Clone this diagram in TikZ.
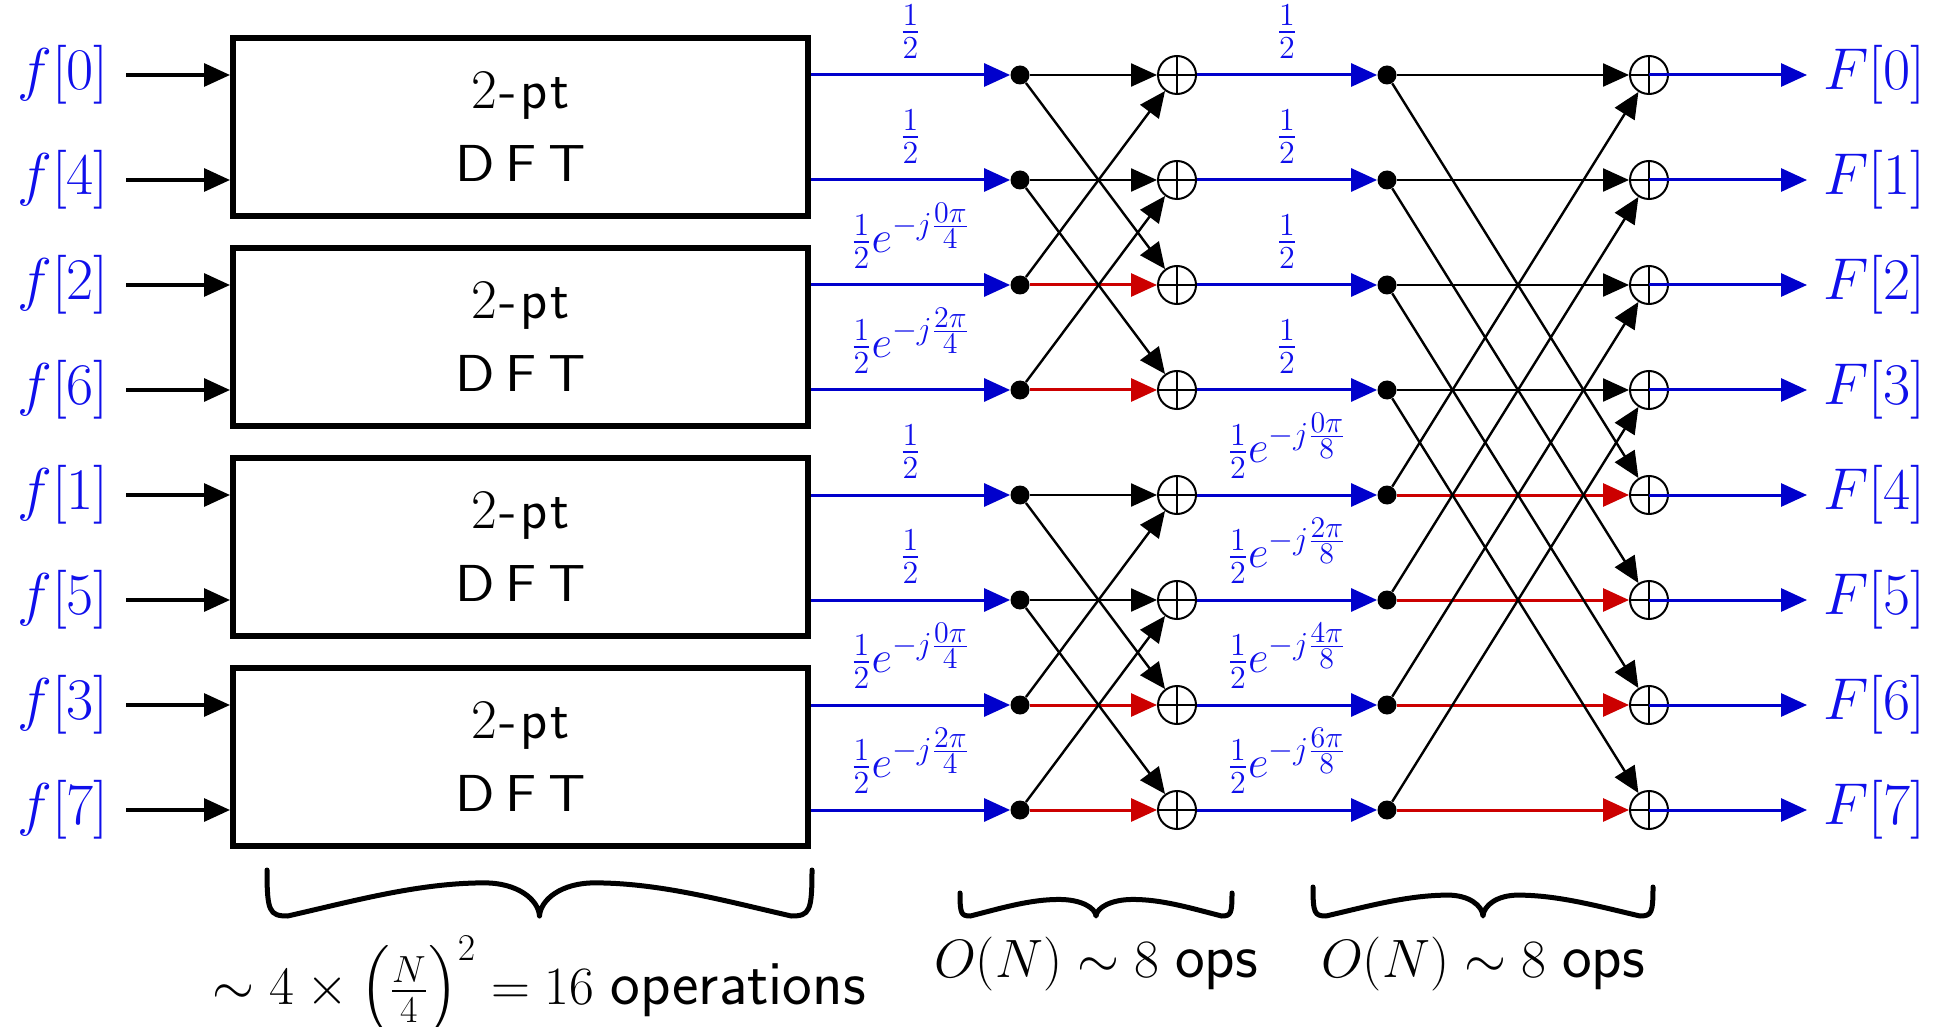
\RequirePackage{fix-cm}
\documentclass[tikz,border=0pt]{standalone}
\usepackage{amsmath}
\usepackage{graphicx}
\usetikzlibrary{arrows.meta}
\DeclareMathSizes{22.5}{22.5}{16}{15}
\definecolor{sigblue}{RGB}{0,0,204}
\definecolor{labblue}{RGB}{15,15,235}
\definecolor{negred}{RGB}{204,0,0}
\newcommand\sanswords[1]{{\sffamily\fontsize{31.5}{36}\selectfont #1}}
\tikzset{
  arr/.style={-{Triangle[length=13pt,width=11.5pt]}},
  insig/.style={arr, line width=1.6pt, black, shorten <=8.5pt},
  bluesig/.style={arr, line width=1.5pt, sigblue},
  blk/.style={arr, line width=1.2pt, black},
  redsig/.style={arr, line width=1.5pt, negred},
  dftbox/.style={draw, line width=3pt, minimum width=287.5pt, minimum height=89pt,
    inner sep=0pt, align=center, font=\sffamily\fontsize{28}{36.5}\selectfont},
  junction/.style={circle, fill=black, inner sep=0pt, minimum size=9.5pt},
  adder/.style={circle, draw, line width=1pt, inner sep=0pt, minimum size=19pt,
    path picture={\draw[line width=0.8pt]
      (path picture bounding box.north) -- (path picture bounding box.south)
      (path picture bounding box.west) -- (path picture bounding box.east);}},
  inlab/.style={anchor=east, inner sep=0pt, text=labblue, font=\fontsize{29.5}{34}\selectfont},
  outlab/.style={anchor=west, inner sep=0pt, text=labblue, font=\fontsize{29.5}{34}\selectfont},
  gain/.style={midway, above=7.5pt, inner sep=0pt, text=labblue, font=\fontsize{22.5}{27}\selectfont},
  opsbrace/.style={line width=2.5pt, line cap=round, line join=round},
  cost/.style={anchor=base, inner sep=0pt, font=\fontsize{27}{32}\selectfont},
}
% curly brace under a stage: left x, right x, bottom y, height, shoulder offset
\newcommand\opbrace[5]{%
  \pgfmathsetmacro\bxm{(#1+#2)/2}%
  \pgfmathsetmacro\bya{#3-#4}%
  \pgfmathsetmacro\bys{#3-0.72*#4}%
  \pgfmathsetmacro\bc{0.45*#4}%
  \pgfmathsetmacro\bL{(\bxm-#5)-(#1+\bc)}%
  \pgfmathsetmacro\bq{#3-0.45*0.72*#4}%
  \pgfmathsetmacro\bh{#3-0.36*#4}%
  \draw[opsbrace] (#1,\bya)
    .. controls (#1,#3-0.1*#4) and (#1+0.05*#4,#3) .. (#1+\bc,#3)
    .. controls (#1+\bc+\bL/3,\bq) and (\bxm-#5-\bL/3,\bys) .. (\bxm-#5,\bys)
    .. controls (\bxm-0.4*#5,\bys) and (\bxm-0.02*#5,\bh) .. (\bxm,#3)
    .. controls (\bxm+0.02*#5,\bh) and (\bxm+0.4*#5,\bys) .. (\bxm+#5,\bys)
    .. controls (\bxm+#5+\bL/3,\bys) and (#2-\bc-\bL/3,\bq) .. (#2-\bc,#3)
    .. controls (#2-0.05*#4,#3) and (#2,#3-0.1*#4) .. (#2,\bya);
}
\begin{document}
\begin{tikzpicture}[x=0.5pt,y=-0.5pt]
\useasboundingbox (0,0) rectangle (1934,1027);

% inputs in bit-reversed order
\foreach \i/\n in {0/0,1/4,2/2,3/6,4/1,5/5,6/3,7/7}
  \node[inlab] (f\i) at (109,75+105*\i) {$f[\n]$};

% four 2-point DFT blocks
\foreach \k in {0,...,3}
  \node[dftbox] (b\k) at (520.5,127+210*\k)
    {$2$\kern1pt-\kern1.5pt p\kern1.5pt t\\{\fontsize{26}{30}\selectfont\scalebox{1.12}[1]{D\kern5pt F\kern5pt T}}};

% junctions, adders and outputs
\foreach \i in {0,...,7}{
  \node[junction] (da\i) at (1020,75+105*\i) {};
  \node[adder] (pa\i) at (1177,75+105*\i) {};
  \node[junction] (db\i) at (1387,75+105*\i) {};
  \node[adder] (pb\i) at (1649,75+105*\i) {};
  \node[outlab] (F\i) at (1823,75+105*\i) {$F[\i]$};
}

% inputs into the DFT blocks
\foreach \i in {0,...,7}{
  \pgfmathtruncatemacro\k{\i/2}
  \draw[insig] (f\i.east) -- (b\k.west |- f\i);
}

% DFT outputs with first-stage weights
\foreach \i/\g in {0/\frac12,1/\frac12,2/\frac12e^{-j\frac{0\pi}{4}},3/\frac12e^{-j\frac{2\pi}{4}},
                   4/\frac12,5/\frac12,6/\frac12e^{-j\frac{0\pi}{4}},7/\frac12e^{-j\frac{2\pi}{4}}}{
  \pgfmathtruncatemacro\k{\i/2}
  \draw[bluesig] (b\k.east |- da\i) -- (da\i) node[gain] {$\g$};
}

% first butterfly stage
\foreach \p/\q in {0/2,1/3,4/6,5/7}{
  \draw[blk] (da\p) -- (pa\p);
  \draw[blk] (da\p) -- (pa\q);
  \draw[blk] (da\q) -- (pa\p);
  \draw[redsig] (da\q) -- (pa\q);
}

% first-stage outputs with second-stage weights
\foreach \i/\g in {0/\frac12,1/\frac12,2/\frac12,3/\frac12,
                   4/\frac12e^{-j\frac{0\pi}{8}},5/\frac12e^{-j\frac{2\pi}{8}},
                   6/\frac12e^{-j\frac{4\pi}{8}},7/\frac12e^{-j\frac{6\pi}{8}}}
  \draw[bluesig] (pa\i) -- (db\i) node[gain] {$\g$};

% second butterfly stage
\foreach \p in {0,...,3}{
  \pgfmathtruncatemacro\q{\p+4}
  \draw[blk] (db\p) -- (pb\p);
  \draw[blk] (db\p) -- (pb\q);
  \draw[blk] (db\q) -- (pb\p);
  \draw[redsig] (db\q) -- (pb\q);
}

% final outputs
\foreach \i in {0,...,7}
  \draw[bluesig, shorten >=8pt] (pb\i.center) -- (F\i.west);

% operation counts
\opbrace{267}{812}{916}{46}{55}
\opbrace{960}{1232}{916}{23}{37}
\opbrace{1313}{1653}{916}{29}{35}
\node[cost] (c1) at (539,1004) {$\sim 4\times\left(\frac{N}{4}\right)^2 = 16$ \sanswords{operations}};
\node[cost] (c2) at (1096,977) {$O(N)\sim 8$ \sanswords{ops}};
\node[cost] (c3) at (1483,977) {$O(N)\sim 8$ \sanswords{ops}};
\end{tikzpicture}
\end{document}
